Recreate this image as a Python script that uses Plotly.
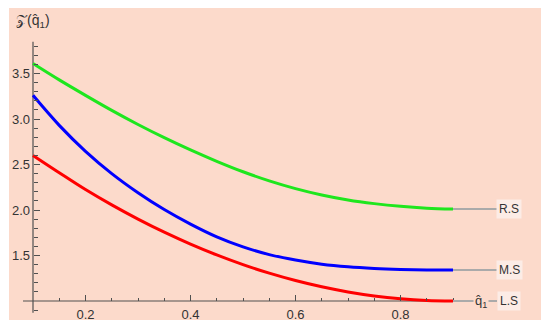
import plotly.graph_objects as go

# ---- data ----
q1 = [0.10, 0.15, 0.20, 0.25, 0.30, 0.35, 0.40, 0.45, 0.50,
      0.55, 0.60, 0.65, 0.70, 0.75, 0.80, 0.85, 0.90]
z_rs = [3.61, 3.43, 3.26, 3.095, 2.94, 2.795, 2.66, 2.535, 2.42,
        2.32, 2.235, 2.165, 2.11, 2.07, 2.04, 2.02, 2.01]
z_ms = [3.26, 2.93, 2.645, 2.40, 2.19, 2.005, 1.845, 1.705, 1.595,
        1.51, 1.45, 1.405, 1.376, 1.358, 1.347, 1.341, 1.34]
z_ls = [2.60, 2.41, 2.225, 2.056, 1.90, 1.756, 1.625, 1.506, 1.40,
        1.306, 1.225, 1.156, 1.10, 1.056, 1.025, 1.006, 1.00]
series_names = ["R.S", "M.S", "L.S"]
series_colors = ["#1EE61E", "#0000FF", "#FF0000"]

x_major = [0.2, 0.4, 0.6, 0.8]
x_major_labels = ["0.2", "0.4", "0.6", "0.8"]
x_minor = [0.15, 0.25, 0.3, 0.35, 0.45, 0.5, 0.55, 0.65, 0.7, 0.75, 0.85, 0.9]
y_major = [1.5, 2.0, 2.5, 3.0, 3.5]
y_major_labels = ["1.5", "2.0", "2.5", "3.0", "3.5"]
y_minor = [0.9, 1.1, 1.2, 1.3, 1.4, 1.6, 1.7, 1.8, 1.9, 2.1, 2.2, 2.3, 2.4,
           2.6, 2.7, 2.8, 2.9, 3.1, 3.2, 3.3, 3.4, 3.6, 3.7, 3.8]

# ---- geometry (page pixels; the page body adds an 8px offset) ----
OFF = 8
W, H = 550 - OFF, 330 - OFF
X0_PX, XSCALE = 33 - OFF, 525.0      # figure px of x=0.1, px per unit
Y0_PX, YSCALE = 301 - OFF, 91.0      # figure px of y=1.0, px per unit
x_rng = [0.1 - X0_PX / XSCALE, 0.1 + (W - X0_PX) / XSCALE]
y_rng = [1.0 - (H - Y0_PX) / YSCALE, 1.0 + Y0_PX / YSCALE]

def px2x(p):
    """page px -> data x"""
    return 0.1 + (p - OFF - X0_PX) / XSCALE

def pgx(p):
    return (p - OFF) / W

def pgy(p):
    return 1 - (p - OFF) / H

AXC = "#505050"
TXT = "#333333"
FONT = "Liberation Sans, Arial, sans-serif"
PINK = "#FCDACB"

fig = go.Figure()
for name, ys, col in zip(series_names, [z_rs, z_ms, z_ls], series_colors):
    fig.add_trace(go.Scatter(x=q1, y=ys, mode="lines", name=name,
                             line=dict(color=col, width=3, shape="spline", smoothing=1.0),
                             showlegend=False, hoverinfo="skip"))

shapes = [
    dict(type="rect", xref="paper", yref="paper", x0=pgx(9), x1=pgx(541),
         y0=pgy(320), y1=pgy(8), fillcolor=PINK, line=dict(width=0), layer="below"),
    # axes
    dict(type="line", x0=px2x(23), x1=px2x(457), y0=1.0, y1=1.0,
         line=dict(color=AXC, width=1.2), layer="below"),
    dict(type="line", x0=0.1, x1=0.1, y0=0.87, y1=3.85,
         line=dict(color=AXC, width=1.2), layer="below"),
]
for name, ys in zip(series_names, [z_rs, z_ms, z_ls]):
    yend = ys[-1]
    shapes.append(dict(type="line", x0=q1[-1], x1=px2x(497), y0=yend, y1=yend,
                       line=dict(color="#AAAAAA", width=2), layer="above"))
fig.update_layout(shapes=shapes)

annotations = []
for name, ys in zip(series_names, [z_rs, z_ms, z_ls]):
    annotations.append(dict(x=px2x(509), y=ys[-1], text=name, showarrow=False,
                            xanchor="center", yanchor="middle",
                            font=dict(family=FONT, size=12, color=TXT),
                            bgcolor="#FCECE6", borderpad=2))
annotations.append(dict(x=px2x(481), y=1.0, text="q̂<sub>1</sub>", showarrow=False,
                        xanchor="center", yanchor="middle", bgcolor=PINK,
                        font=dict(family=FONT, size=13, color=TXT)))
annotations.append(dict(x=pgx(14), y=pgy(21), xref="paper", yref="paper",
                        text="𝒵(q̂<sub>1</sub>)", showarrow=False,
                        xanchor="left", yanchor="middle",
                        font=dict(family=FONT, size=14, color=TXT)))
fig.update_layout(annotations=annotations)

fig.update_layout(
    width=W, height=H,
    margin=dict(l=0, r=0, t=0, b=0),
    paper_bgcolor="white", plot_bgcolor="white",
    xaxis=dict(range=x_rng, anchor="free", position=(H - Y0_PX) / H,
               showgrid=False, zeroline=False, showline=False,
               tickmode="array", tickvals=x_major, ticktext=x_major_labels,
               ticks="inside", ticklen=6, tickcolor=AXC, tickwidth=1,
               ticklabelstandoff=4,
               minor=dict(tickmode="array", tickvals=x_minor, ticks="inside",
                          ticklen=3.5, tickcolor=AXC, tickwidth=1, showgrid=False),
               tickfont=dict(family=FONT, size=13, color=TXT), automargin=False),
    yaxis=dict(range=y_rng, anchor="free", position=X0_PX / W,
               showgrid=False, zeroline=False, showline=False,
               tickmode="array", tickvals=y_major, ticktext=y_major_labels,
               ticks="inside", ticklen=6, tickcolor=AXC, tickwidth=1,
               ticklabelstandoff=3,
               minor=dict(tickmode="array", tickvals=y_minor, ticks="inside",
                          ticklen=3.5, tickcolor=AXC, tickwidth=1, showgrid=False),
               tickfont=dict(family=FONT, size=13, color=TXT), automargin=False),
)

fig.write_html("out.html")
